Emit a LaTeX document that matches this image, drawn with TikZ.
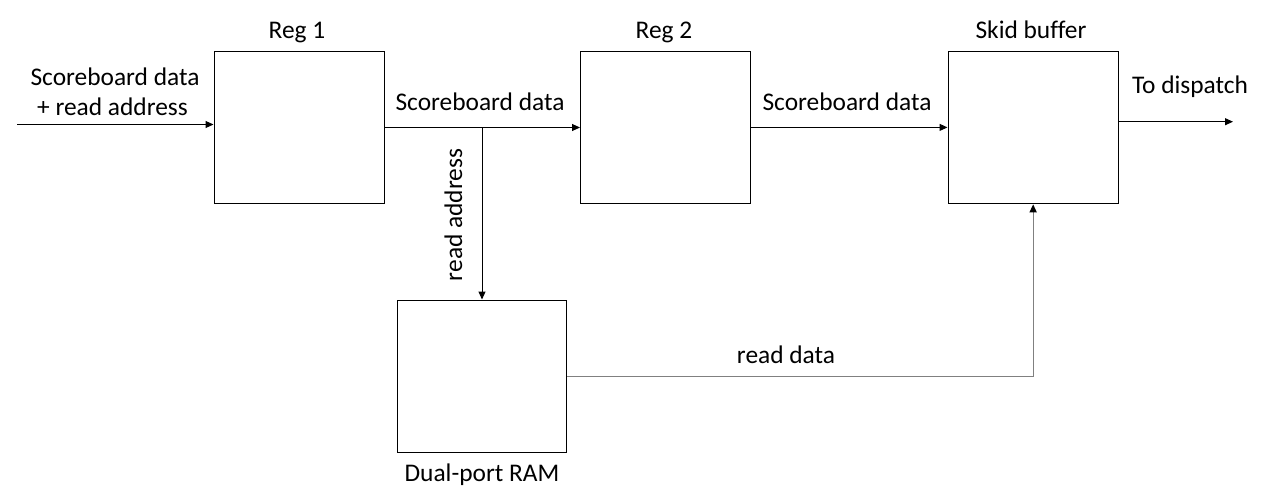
\documentclass[tikz,border=0pt]{standalone}
\usepackage{fontspec}
\setmainfont{Carlito}[Ligatures=NoCommon]
\usetikzlibrary{arrows.meta}
\begin{document}
\begin{tikzpicture}[x=1pt,y=-1pt,
  blk/.style={draw, line width=1.3pt, minimum width=170pt, minimum height=152.5pt, inner sep=0pt, anchor=north west},
  conn/.style={line width=1pt, -{Triangle[length=8pt,width=7pt,color=black]}},
  lbl/.style={font=\fontsize{25.4}{30}\selectfont, inner sep=0pt, anchor=base}]
\useasboundingbox (0,0) rectangle (1262,498);
\node[blk] (reg1) at (213.5,50.5) {};
\node[blk] (reg2) at (580,50.5) {};
\node[blk] (skid) at (947.5,50.5) {};
\node[blk, minimum width=169pt] (ram) at (397,299.5) {};
% labels
\node[lbl] (l1) at (297,38) {Reg 1};
\node[lbl] (l2) at (664,38) {Reg 2};
\node[lbl] (l3) at (1031,38) {Skid buffer};
\node[lbl] (l4) at (482,481) {Dual-port RAM};
\node[lbl] (in1) at (115,85) {Scoreboard data};
\node[lbl] (in2) at (112.5,115) {+ read address};
\node[lbl] (sd1) at (480,110) {Scoreboard data};
\node[lbl] (sd2) at (847,110) {Scoreboard data};
\node[lbl] (td) at (1190,93) {To dispatch};
\node[lbl] (rd) at (786,363) {read data};
\node[lbl, rotate=90] (ra) at (462,215) {read address};
% connectors
\coordinate (in) at (17,124.5);
\coordinate (j) at (482,127.5);
\coordinate (out) at (1233,121.7);
\draw[conn] (in) -- (in -| reg1.west);
\draw[conn] (j -| reg1.east) -- (j -| reg2.west);
\draw[conn] (j) -- (j |- ram.north);
\draw[conn] (reg2.east) -- (skid.west);
\draw[conn] (out -| skid.east) -- (out);
\draw[conn, draw=black!50, line width=1.3pt] (ram.east) -| (skid.south);
\end{tikzpicture}
\end{document}
